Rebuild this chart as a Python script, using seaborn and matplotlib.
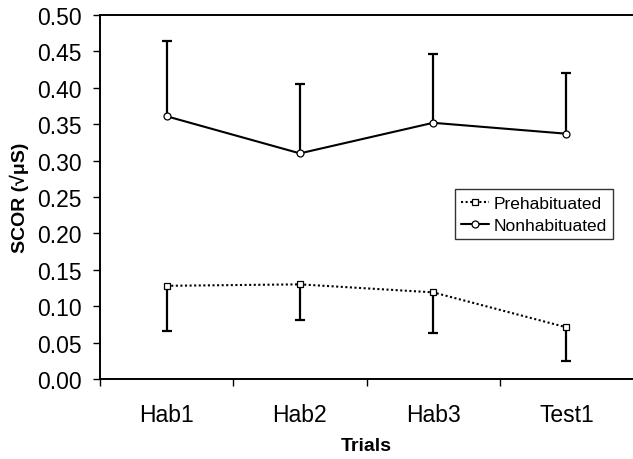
import numpy as np
import pandas as pd
import matplotlib
matplotlib.use("Agg")
import matplotlib.pyplot as plt
import seaborn as sns

trials = ["Hab1", "Hab2", "Hab3", "Test1"]
prehab_mean = [0.128, 0.130, 0.119, 0.071]
prehab_err_down = [0.062, 0.049, 0.056, 0.047]
nonhab_mean = [0.361, 0.310, 0.352, 0.337]
nonhab_err_up = [0.103, 0.095, 0.094, 0.084]
series_names = ["Prehabituated", "Nonhabituated"]

sns.set_style("ticks")
plt.rcParams["font.family"] = ["Liberation Sans", "DejaVu Sans"]
plt.rcParams["text.color"] = "black"
plt.rcParams["axes.labelcolor"] = "black"
plt.rcParams["xtick.color"] = "black"
plt.rcParams["ytick.color"] = "black"

df = pd.DataFrame({
    "Trials": trials * 2,
    "SCOR": prehab_mean + nonhab_mean,
    "Group": [series_names[0]] * 4 + [series_names[1]] * 4,
})

fig = plt.figure(figsize=(6.33, 4.60), dpi=100)
ax = fig.add_axes([0.158, 0.174, 0.842, 0.791])

x = np.arange(len(trials))

# error bars (one-sided)
eb1 = ax.errorbar(x, prehab_mean, yerr=[prehab_err_down, [0] * 4], fmt="none",
                  ecolor="black", elinewidth=1.6, capsize=3.5, capthick=1.6, zorder=2)
eb1[1][1].set_visible(False)
eb2 = ax.errorbar(x, nonhab_mean, yerr=[[0] * 4, nonhab_err_up], fmt="none",
                  ecolor="black", elinewidth=1.6, capsize=3.5, capthick=1.6, zorder=2)
eb2[1][0].set_visible(False)

sns.lineplot(data=df, x="Trials", y="SCOR", hue="Group", style="Group",
             palette=["black", "black"],
             dashes={series_names[0]: (1, 1.2), series_names[1]: ""},
             markers={series_names[0]: "s", series_names[1]: "o"},
             markersize=5, markerfacecolor="white", markeredgecolor="black",
             markeredgewidth=0.9, linewidth=1.5, ax=ax, sort=False, zorder=3)

ax.set_xlim(-0.5, 3.5)
ax.set_ylim(0, 0.5)
ax.set_yticks(np.arange(0, 0.501, 0.05))
ax.set_yticklabels([f"{v:.2f}" for v in np.arange(0, 0.501, 0.05)])
ax.set_xticks(x)
ax.set_xticklabels(trials)
ax.set_xticks([-0.5, 0.5, 1.5, 2.5], minor=True)
ax.tick_params(axis="x", which="major", length=0, pad=17, labelsize=16.5)
ax.tick_params(axis="x", which="minor", length=5, width=1.0, direction="out")
ax.tick_params(axis="y", length=5, width=1.0, pad=8, labelsize=16.5, direction="out")

for s in ["left", "bottom", "top"]:
    ax.spines[s].set_linewidth(1.4)
    ax.spines[s].set_color("black")
ax.spines["right"].set_visible(False)

ax.set_ylabel("SCOR (√μS)", fontsize=14, fontweight="bold", labelpad=6)
ax.set_xlabel("Trials", fontsize=14, fontweight="bold", labelpad=8)

handles, labels = ax.get_legend_handles_labels()
leg = ax.legend(handles, labels, loc="lower right", bbox_to_anchor=(0.962, 0.385),
                fontsize=12.5, frameon=True, fancybox=False, edgecolor="black",
                handlelength=1.6, handletextpad=0.25, borderpad=0.35,
                labelspacing=0.4, borderaxespad=0)
leg.get_frame().set_linewidth(1.0)

fig.savefig("out.png", dpi=100)
